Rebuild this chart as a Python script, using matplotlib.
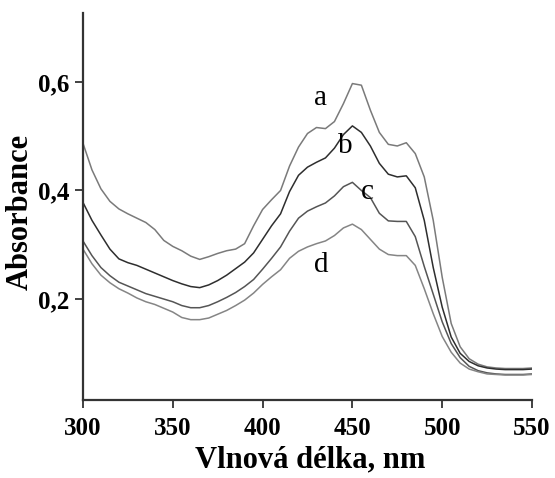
import matplotlib
matplotlib.use('Agg')
import matplotlib.pyplot as plt

# wavelength grid, nm
wavelength = list(range(300, 551, 5))

# absorbance, one list per curve
abs_a = [0.487, 0.438, 0.403, 0.380, 0.366, 0.357, 0.349, 0.341, 0.328, 0.308,
         0.297, 0.289, 0.279, 0.273, 0.278, 0.284, 0.289, 0.292, 0.302, 0.335,
         0.365, 0.383, 0.400, 0.445, 0.480, 0.505, 0.516, 0.514, 0.527, 0.560,
         0.597, 0.594, 0.548, 0.507, 0.485, 0.482, 0.488, 0.468, 0.425, 0.345,
         0.240, 0.155, 0.112, 0.090, 0.080, 0.075, 0.073, 0.072, 0.072, 0.072,
         0.073]
abs_b = [0.378, 0.345, 0.318, 0.292, 0.274, 0.267, 0.262, 0.255, 0.248, 0.241,
         0.234, 0.228, 0.223, 0.221, 0.226, 0.234, 0.244, 0.256, 0.268, 0.285,
         0.310, 0.335, 0.357, 0.398, 0.428, 0.443, 0.452, 0.460, 0.478, 0.503,
         0.519, 0.507, 0.482, 0.450, 0.430, 0.425, 0.427, 0.405, 0.345, 0.258,
         0.185, 0.130, 0.100, 0.085, 0.077, 0.073, 0.071, 0.070, 0.070, 0.070,
         0.071]
abs_c = [0.307, 0.280, 0.258, 0.243, 0.231, 0.224, 0.217, 0.210, 0.205, 0.200,
         0.195, 0.188, 0.184, 0.184, 0.188, 0.195, 0.203, 0.212, 0.223, 0.236,
         0.255, 0.275, 0.296, 0.325, 0.349, 0.362, 0.370, 0.377, 0.390, 0.407,
         0.415, 0.400, 0.387, 0.358, 0.344, 0.343, 0.343, 0.315, 0.260, 0.209,
         0.158, 0.118, 0.092, 0.076, 0.068, 0.064, 0.062, 0.061, 0.061, 0.061,
         0.062]
abs_d = [0.292, 0.265, 0.244, 0.230, 0.219, 0.211, 0.202, 0.195, 0.190, 0.183,
         0.176, 0.166, 0.162, 0.162, 0.165, 0.172, 0.179, 0.188, 0.198, 0.211,
         0.227, 0.241, 0.254, 0.275, 0.288, 0.296, 0.302, 0.307, 0.317, 0.331,
         0.338, 0.328, 0.310, 0.292, 0.282, 0.280, 0.280, 0.262, 0.219, 0.173,
         0.131, 0.102, 0.082, 0.071, 0.066, 0.062, 0.061, 0.060, 0.060, 0.060,
         0.061]

curve_names = ['a', 'b', 'c', 'd']
label_x = [432, 446, 458.5, 432.5]
label_y = [0.558, 0.469, 0.385, 0.250]

x_ticks = [300, 350, 400, 450, 500, 550]
y_ticks = [0.2, 0.4, 0.6]
y_ticklabels = ['0,2', '0,4', '0,6']

colors = ['#7a7a7a', '#2e2e2e', '#555555', '#858585']
serif = ['Liberation Serif', 'DejaVu Serif']

fig = plt.figure(figsize=(5.55, 4.78), dpi=100)
ax = fig.add_axes([0.1495, 0.1632, 0.8091, 0.8096])

for ys, c in zip([abs_a, abs_b, abs_c, abs_d], colors):
    ax.plot(wavelength, ys, color=c, lw=1.1)

for name, lx, ly in zip(curve_names, label_x, label_y):
    ax.text(lx, ly, name, ha='center', va='baseline', fontsize=21,
            family=serif, color='black')

ax.set_xlim(300, 550)
ax.set_ylim(0.014, 0.727)

ax.set_xticks(x_ticks)
ax.set_xticklabels([str(t) for t in x_ticks], fontsize=18,
                   fontweight='bold', family=serif)
ax.set_yticks(y_ticks)
ax.set_yticklabels(y_ticklabels, fontsize=18, fontweight='bold',
                   family=serif)

for side in ['top', 'right']:
    ax.spines[side].set_visible(False)
for side in ['left', 'bottom']:
    ax.spines[side].set_linewidth(1.6)
    ax.spines[side].set_color('#333333')

ax.tick_params(axis='both', direction='out', length=6, width=1.3,
               color='#333333')
ax.tick_params(axis='x', pad=6)
ax.tick_params(axis='y', pad=3.5)

ax.set_xlabel('Vlnová délka, nm', fontsize=22, fontweight='bold',
              family=serif)
ax.set_ylabel('Absorbance', fontsize=22, fontweight='bold', family=serif)
ax.xaxis.set_label_coords(0.5056, -0.117)
ax.yaxis.set_label_coords(-0.107, 0.485)

fig.savefig('out.png', dpi=100)
